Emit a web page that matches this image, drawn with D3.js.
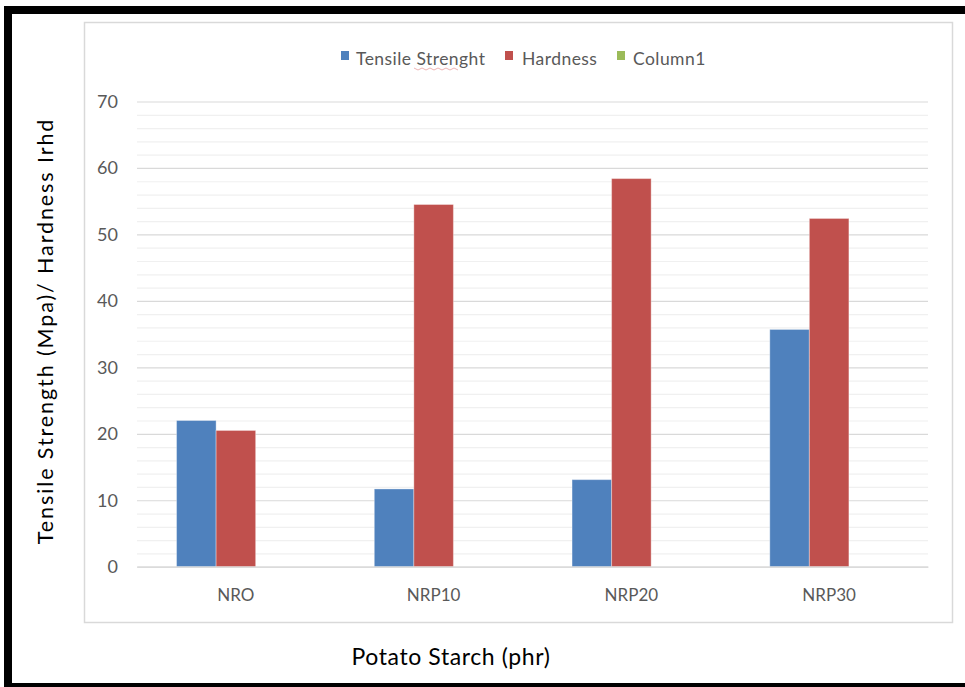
<!DOCTYPE html>
<html>
<head>
<meta charset="utf-8">
<script src="https://cdn.jsdelivr.net/npm/d3@7/dist/d3.min.js"></script>
<style>
  html, body { margin: 0; padding: 0; background: #fff; }
  svg { display: block; }
  text { font-family: Lato, "Open Sans", sans-serif; }
</style>
</head>
<body>
<svg id="chart" width="965" height="687"></svg>
<script>
// Samples of natural rubber filled with potato starch
const categories = ["NRO", "NRP10", "NRP20", "NRP30"];
const seriesNames = ["Tensile Strenght", "Hardness", "Column1"];
const tensileStrength = [22.0, 11.7, 13.1, 35.7];
const hardness = [20.5, 54.5, 58.4, 52.4];
const column1 = [null, null, null, null];
const yTicks = [0, 10, 20, 30, 40, 50, 60, 70];
const yMinorTicks = d3.range(0, 71, 2);
const seriesColors = ["#4F81BD", "#C0504D", "#9BBB59"];

const seriesValues = [tensileStrength, hardness, column1];

const svg = d3.select("#chart");
const W = 965, H = 687;

// Page frame
svg.append("rect").attr("x", 0).attr("y", 0).attr("width", W).attr("height", H).attr("fill", "#fff");
svg.append("rect").attr("x", 4).attr("y", 6).attr("width", 8).attr("height", H - 6).attr("fill", "#000");
svg.append("rect").attr("x", 4).attr("y", 6).attr("width", W - 4).attr("height", 8).attr("fill", "#000");
svg.append("rect").attr("x", 4).attr("y", 683).attr("width", W - 4).attr("height", 4).attr("fill", "#000");

// Chart area border
svg.append("rect")
  .attr("x", 84.5).attr("y", 22.5).attr("width", 868).attr("height", 600)
  .attr("fill", "#fff").attr("stroke", "#d9d9d9").attr("stroke-width", 1.5);

const plot = { left: 137, right: 928, top: 101.5, bottom: 566.7 };

const x0 = d3.scaleBand()
  .domain(categories)
  .range([plot.left, plot.right])
  .paddingInner(0.4)
  .paddingOuter(0.2);

const x1 = d3.scaleBand()
  .domain(seriesNames)
  .range([0, x0.bandwidth()]);

const y = d3.scaleLinear()
  .domain([0, 70])
  .range([plot.bottom, plot.top]);

// Minor gridlines
svg.append("g")
  .attr("transform", `translate(${plot.left},0)`)
  .call(d3.axisLeft(y).tickValues(yMinorTicks.filter(v => v % 10 !== 0))
    .tickSize(-(plot.right - plot.left)).tickFormat(""))
  .call(g => g.select(".domain").remove())
  .call(g => g.selectAll("line").attr("stroke", "#f0f0f0").attr("stroke-width", 1.2));

// Major gridlines
svg.append("g")
  .attr("transform", `translate(${plot.left},0)`)
  .call(d3.axisLeft(y).tickValues(yTicks)
    .tickSize(-(plot.right - plot.left)).tickFormat(""))
  .call(g => g.select(".domain").remove())
  .call(g => g.selectAll("line").attr("stroke", "#d9d9d9").attr("stroke-width", 1.2));

// Y tick labels
svg.append("g")
  .attr("transform", `translate(${plot.left},0)`)
  .call(d3.axisLeft(y).tickValues(yTicks).tickSize(0).tickPadding(19).tickFormat(d3.format("d")))
  .call(g => g.select(".domain").remove())
  .call(g => g.selectAll("text")
    .attr("fill", "#595959").attr("font-size", 18).attr("font-family", "Lato, sans-serif"));

// Bars
const groups = svg.append("g").selectAll("g")
  .data(categories)
  .join("g")
  .attr("transform", d => `translate(${x0(d)},0)`);

groups.selectAll("rect")
  .data((d, i) => seriesNames.map((s, k) => ({ series: s, value: seriesValues[k][i], k })))
  .join("rect")
  .filter(d => d.value != null)
  .attr("x", d => x1(d.series))
  .attr("y", d => y(d.value))
  .attr("width", x1.bandwidth())
  .attr("height", d => y(0) - y(d.value))
  .attr("fill", d => seriesColors[d.k])
  .attr("stroke", "rgba(255,255,255,0.35)")
  .attr("stroke-width", 1);

// X axis line and labels
svg.append("g")
  .attr("transform", `translate(0,${plot.bottom})`)
  .call(d3.axisBottom(x0).tickSize(0).tickPadding(22))
  .call(g => g.select(".domain").attr("stroke", "#d9d9d9").attr("stroke-width", 1.2))
  .call(g => g.selectAll("text")
    .attr("fill", "#595959").attr("font-size", 17).attr("font-family", "Lato, sans-serif"));

// Legend
const legendItems = [
  { name: seriesNames[0], sx: 341, tx: 356 },
  { name: seriesNames[1], sx: 505, tx: 522 },
  { name: seriesNames[2], sx: 617, tx: 633 }
];
const legend = svg.append("g");
legendItems.forEach((it, k) => {
  legend.append("rect").attr("x", it.sx).attr("y", 51).attr("width", 8).attr("height", 9)
    .attr("fill", seriesColors[k]);
  legend.append("text").attr("x", it.tx).attr("y", 65)
    .attr("fill", "#595959").attr("font-size", 17.5).attr("letter-spacing", 0.45).text(it.name);
});
// spell-check squiggle under the misspelled word
legend.append("path")
  .attr("d", d3.range(0, 12).map((i) => `${i === 0 ? "M" : "L"}${414 + i * 4},${i % 2 ? 70 : 68}`).join(""))
  .attr("fill", "none").attr("stroke", "#e8a0a0").attr("stroke-width", 0.8);

// Axis titles
svg.append("text")
  .attr("x", 451).attr("y", 665)
  .attr("text-anchor", "middle")
  .attr("fill", "#000").attr("font-size", 23).attr("letter-spacing", 0.6)
  .text("Potato Starch (phr)");

svg.append("text")
  .attr("transform", "translate(53,331) rotate(-90)")
  .attr("text-anchor", "middle")
  .attr("fill", "#000").attr("font-size", 21.5).attr("letter-spacing", 1.9)
  .text("Tensile Strength (Mpa)/ Hardness Irhd");
</script>
</body>
</html>
